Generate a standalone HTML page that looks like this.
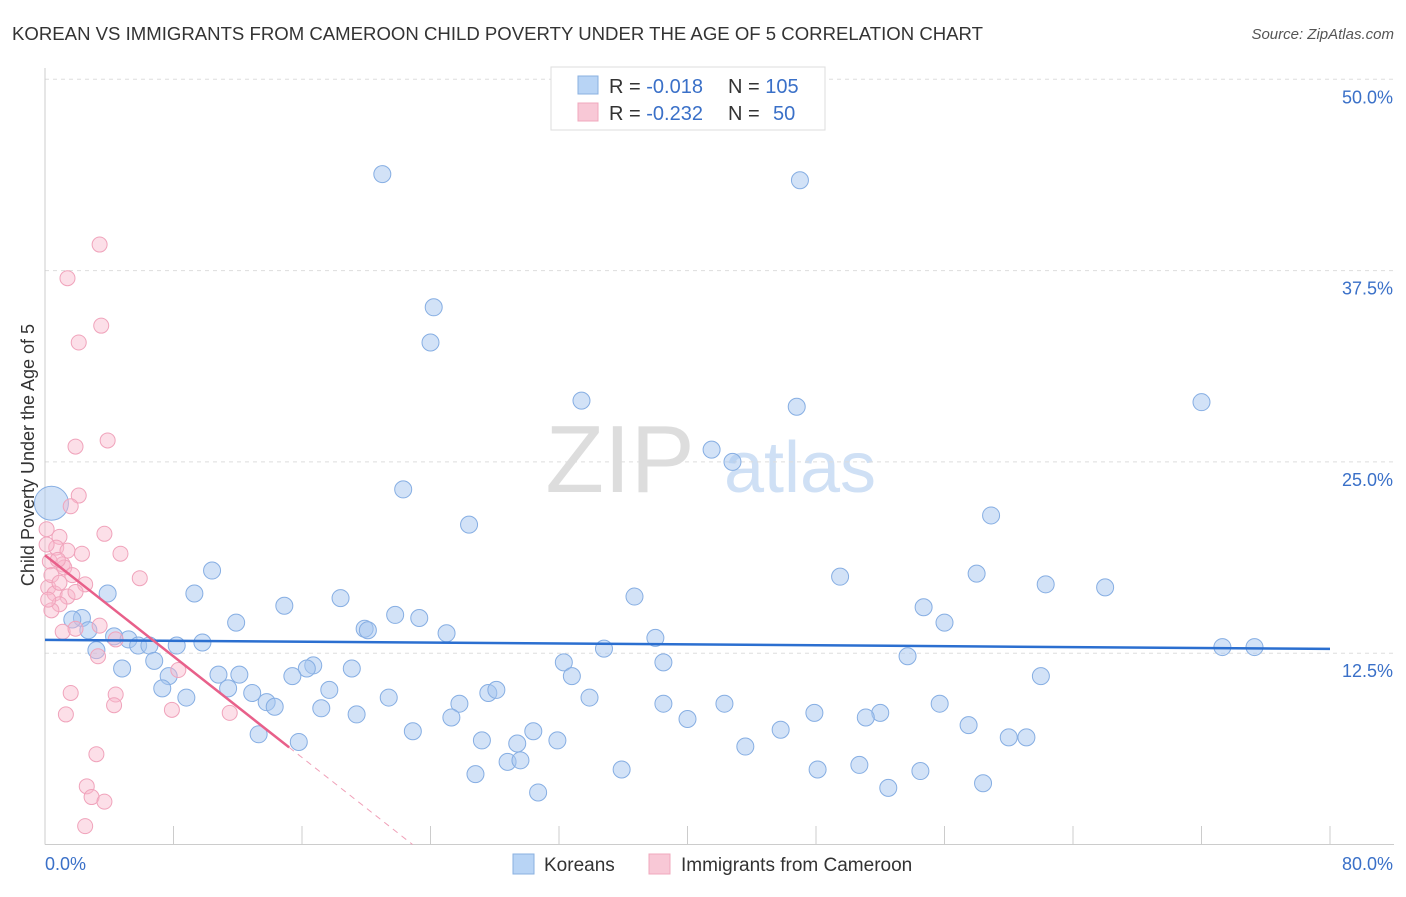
<!DOCTYPE html>
<html><head><meta charset="utf-8"><style>
body{margin:0;background:#fff;font-family:"Liberation Sans",sans-serif;}
svg text{font-family:"Liberation Sans",sans-serif;}
</style></head><body>
<svg id="chart" width="1406" height="892">
<text x="12" y="40" font-size="18" fill="#333" textLength="971" lengthAdjust="spacingAndGlyphs">KOREAN VS IMMIGRANTS FROM CAMEROON CHILD POVERTY UNDER THE AGE OF 5 CORRELATION CHART</text>
<text x="1394" y="39" font-size="15" fill="#555" text-anchor="end" font-style="italic">Source: ZipAtlas.com</text>
<text x="620" y="492" font-size="96" fill="#ddd" font-family="Liberation Serif" text-anchor="middle">ZIP</text>
<text x="800" y="492" font-size="72" fill="#cfe0f5" text-anchor="middle">atlas</text>
<g id="grid"></g><g id="axes"></g><g id="pts"></g><g id="lines"></g>
<text x="34" y="455" font-size="18" fill="#333" text-anchor="middle" transform="rotate(-90 34 455)">Child Poverty Under the Age of 5</text>
<g>
<rect x="551" y="67" width="274" height="63" fill="#fff" stroke="#ddd"/>
<rect x="578" y="76" width="20" height="18" fill="#b8d4f5" stroke="#8ab0e0"/>
<rect x="578" y="103" width="20" height="18" fill="#f8c8d6" stroke="#f0a8bd"/>
<text x="609" y="93" font-size="20" fill="#333">R = <tspan fill="#3a70c8">-0.018</tspan></text>
<text x="728" y="93" font-size="20" fill="#333">N = <tspan fill="#3a70c8">105</tspan></text>
<text x="609" y="120" font-size="20" fill="#333">R = <tspan fill="#3a70c8">-0.232</tspan></text>
<text x="728" y="120" font-size="20" fill="#333">N =</text>
<text x="773" y="120" font-size="20" fill="#3a70c8">50</text>
</g>
<g>
<rect x="513" y="854" width="21" height="20" fill="#b8d4f5" stroke="#8ab0e0"/>
<text x="544" y="871" font-size="19" fill="#333">Koreans</text>
<rect x="649" y="854" width="21" height="20" fill="#f8c8d6" stroke="#f0a8bd"/>
<text x="681" y="871" font-size="19" fill="#333">Immigrants from Cameroon</text>
</g>
</svg>
<script>
const yTicks=[12.5,25,37.5,50];
const yTickLabels=["12.5%","25.0%","37.5%","50.0%"];
const xTicks=[0,8,16,24,32,40,48,56,64,72,80];
const koreanX=[21.0,47.0,24.2,24.0,33.4,46.8,72.0,41.5,42.8,22.3,26.4,58.9,0.4,10.4,49.5,58.0,62.3,66.0,3.9,9.3,36.7,18.4,14.9,54.7,21.8,23.3,2.3,1.7,11.9,56.0,2.7,19.9,20.1,25.0,38.0,4.3,5.2,5.8,6.5,8.2,9.8,3.2,34.8,73.3,75.3,53.7,6.8,32.3,38.5,4.8,16.7,16.3,19.1,12.1,10.8,15.4,32.8,62.0,7.7,7.3,11.4,17.7,12.9,8.8,21.4,27.6,28.1,33.9,25.8,13.8,14.3,17.2,38.5,42.3,55.7,19.4,25.3,47.9,52.0,51.1,40.0,57.5,22.9,30.4,45.8,13.3,27.2,29.4,31.9,60.0,61.1,15.8,43.6,50.7,28.8,29.6,35.9,26.8,48.1,54.5,58.4,52.5,30.7];
const koreanY=[43.8,43.4,35.1,32.8,29.0,28.6,28.9,25.8,25.0,23.2,20.9,21.5,22.3,17.9,17.5,17.7,17.0,16.8,16.4,16.4,16.2,16.1,15.6,15.5,15.0,14.8,14.8,14.7,14.5,14.5,14.0,14.1,14.0,13.8,13.5,13.6,13.4,13.0,13.0,13.0,13.2,12.7,12.8,12.9,12.9,12.3,12.0,11.9,11.9,11.5,11.7,11.5,11.5,11.1,11.1,11.0,11.0,11.0,11.0,10.2,10.2,10.1,9.9,9.6,9.6,9.9,10.1,9.6,9.2,9.3,9.0,8.9,9.2,9.2,9.2,8.5,8.3,8.6,8.6,8.3,8.2,7.8,7.4,7.4,7.5,7.2,6.8,6.6,6.8,7.0,7.0,6.7,6.4,5.2,5.4,5.5,4.9,4.6,4.9,4.8,4.0,3.7,3.4];
const cameroonX=[3.4,1.4,3.5,2.1,3.9,1.9,2.1,1.6,0.1,0.9,3.7,0.7,1.4,2.3,4.7,0.3,1.1,1.2,1.7,5.9,2.5,0.2,0.6,1.4,1.9,0.9,0.4,3.4,1.1,1.9,4.4,3.3,8.3,1.6,4.4,4.3,7.9,11.5,1.3,3.2,2.6,2.9,3.7,2.5,0.1,0.4,0.9,0.8,0.2];
const cameroonY=[39.2,37.0,33.9,32.8,26.4,26.0,22.8,22.1,20.6,20.1,20.3,19.4,19.2,19.0,19.0,18.5,18.3,18.1,17.6,17.4,17.0,16.8,16.4,16.2,16.5,15.7,15.3,14.3,13.9,14.1,13.4,12.3,11.4,9.9,9.8,9.1,8.8,8.6,8.5,5.9,3.8,3.1,2.8,1.2,19.6,17.6,17.1,18.6,16.0];
const koreanTrend=[13.37,12.78];
const cameroonTrend=[18.9,-0.826];
const NS="http://www.w3.org/2000/svg";
const X=v=>45+v*(1285/80), Y=v=>844.5-v*15.305;
function mk(t,a,p){const e=document.createElementNS(NS,t);for(const k in a)e.setAttribute(k,a[k]);p.appendChild(e);return e;}
const grid=document.getElementById('grid'),axes=document.getElementById('axes'),pts=document.getElementById('pts'),lines=document.getElementById('lines');
yTicks.forEach((t,i)=>{const l=mk('line',{x1:45,x2:1394,y1:Y(t),y2:Y(t),stroke:'#ddd','stroke-dasharray':'4,4'},grid);


const tx=mk('text',{x:1393,y:Y(t)+24,'font-size':18,fill:'#3a70c8','text-anchor':'end'},axes);tx.textContent=yTickLabels[i];

});
const xa=mk('line',{x1:45,x2:1394,y1:844.5,y2:844.5,stroke:'#ccc'},axes);


const ya=mk('line',{x1:45,x2:45,y1:68,y2:844.5,stroke:'#ccc'},axes);


xTicks.forEach(t=>{const l=mk('line',{x1:X(t),x2:X(t),y1:826,y2:844.5,stroke:'#ccc'},axes);

});
const x0=mk('text',{x:45,y:870,'font-size':18,fill:'#3a70c8'},axes);x0.textContent='0.0%';


const x1=mk('text',{x:1393,y:870,'font-size':18,fill:'#3a70c8','text-anchor':'end'},axes);x1.textContent='80.0%';


koreanX.forEach((v,i)=>{const c=mk('circle',{cx:X(v),cy:Y(koreanY[i]),r:i==12?17:8.5,fill:'rgba(165,198,240,0.5)',stroke:'#86aee3','stroke-width':1},pts);

});
cameroonX.forEach((v,i)=>{const c=mk('circle',{cx:X(v),cy:Y(cameroonY[i]),r:7.5,fill:'rgba(248,185,205,0.45)',stroke:'#f0a3bb','stroke-width':1},pts);

});
const kl=mk('line',{x1:X(0),y1:Y(koreanTrend[0]),x2:X(80),y2:Y(koreanTrend[1]),stroke:'#2b6fd0','stroke-width':2.5},lines);


const xe=15.2,xz=-cameroonTrend[0]/cameroonTrend[1];
const cl=mk('line',{x1:X(0),y1:Y(cameroonTrend[0]),x2:X(xe),y2:Y(cameroonTrend[0]+cameroonTrend[1]*xe),stroke:'#e8608a','stroke-width':2.5},lines);


const cd=mk('line',{x1:X(xe),y1:Y(cameroonTrend[0]+cameroonTrend[1]*xe),x2:X(xz),y2:Y(0),stroke:'#f0a0b8','stroke-width':1,'stroke-dasharray':'6,5'},lines);


</script>
</body></html>
